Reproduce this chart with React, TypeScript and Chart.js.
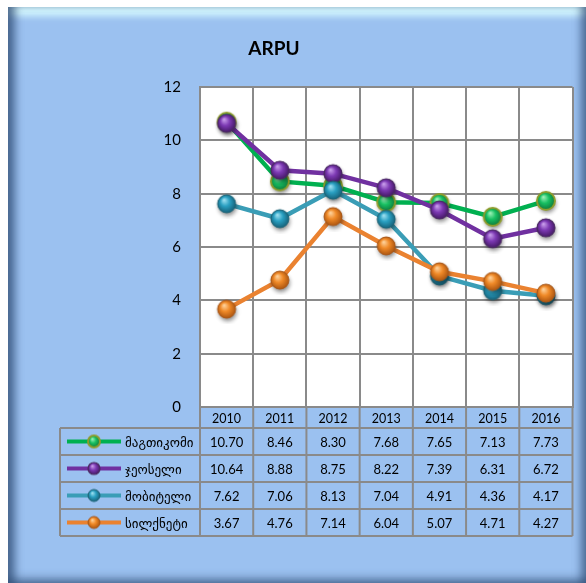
import React, { useEffect, useRef } from "react";
import { Chart, registerables } from "chart.js";

Chart.register(...registerables);

const categories = ["2010", "2011", "2012", "2013", "2014", "2015", "2016"];
const magticom = [10.7, 8.46, 8.3, 7.68, 7.65, 7.13, 7.73];
const geocell = [10.64, 8.88, 8.75, 8.22, 7.39, 6.31, 6.72];
const mobitel = [7.62, 7.06, 8.13, 7.04, 4.91, 4.36, 4.17];
const silknet = [3.67, 4.76, 7.14, 6.04, 5.07, 4.71, 4.27];
const seriesNames = ["მაგთიკომი", "ჯეოსელი", "მობიტელი", "სილქნეტი"];
const yTicks = [0, 2, 4, 6, 8, 10, 12];
const title = "ARPU";

const FONT = "Lato, 'DejaVu Sans', sans-serif";

type Palette = { line: string; light: string; base: string; dark: string; ring: string; ringW: number };
const palettes: Palette[] = [
  { line: "#00B050", light: "#A8F5BE", base: "#18C062", dark: "#0B6A34", ring: "#8E9C2C", ringW: 2 },
  { line: "#7030A0", light: "#CFA6F0", base: "#7D3AB4", dark: "#3A1258", ring: "#4B2B62", ringW: 1.2 },
  { line: "#3A9DB6", light: "#A8E6F5", base: "#2AA0C2", dark: "#13566C", ring: "#1E6477", ringW: 1 },
  { line: "#EA8230", light: "#FFD8A6", base: "#F08A28", dark: "#A04C0C", ring: "#A8581A", ringW: 1 },
];

function makeSphere(p: Palette, r: number, shadow: boolean): HTMLCanvasElement {
  const pad = 6;
  const size = Math.ceil(2 * (r + pad));
  const c = document.createElement("canvas");
  c.width = size;
  c.height = size;
  const g = c.getContext("2d")!;
  const cx = size / 2;
  const cy = size / 2;
  if (shadow) {
    g.save();
    g.shadowColor = "rgba(0,0,0,0.45)";
    g.shadowBlur = 4;
    g.shadowOffsetX = 1;
    g.shadowOffsetY = 3;
    g.beginPath();
    g.arc(cx, cy, r, 0, Math.PI * 2);
    g.fillStyle = p.dark;
    g.fill();
    g.restore();
  }
  const grad = g.createRadialGradient(cx - r * 0.3, cy - r * 0.45, 0, cx, cy, r * 1.15);
  grad.addColorStop(0, p.light);
  grad.addColorStop(0.45, p.base);
  grad.addColorStop(1, p.dark);
  g.beginPath();
  g.arc(cx, cy, r, 0, Math.PI * 2);
  g.fillStyle = grad;
  g.fill();
  g.lineWidth = p.ringW;
  g.strokeStyle = p.ring;
  g.stroke();
  return c;
}

export default function App() {
  const ref = useRef<HTMLCanvasElement | null>(null);

  useEffect(() => {
    if (!ref.current) return;
    const seriesData = [magticom, geocell, mobitel, silknet];
    const bigSpheres = palettes.map((p) => makeSphere(p, 9, true));
    const smallSpheres = palettes.map((p) => makeSphere(p, 6, false));

    const tablePlugin = {
      id: "tablePlugin",
      afterDraw(chart: any) {
        const ctx = chart.ctx as CanvasRenderingContext2D;
        const area = chart.chartArea;
        const xs = chart.scales.x;
        const n = categories.length;
        const colW = (area.right - area.left) / n;
        const top = area.bottom;
        const headerH = 21;
        const rowH = 27;
        const legendLeft = 52;
        const rowsTop = top + headerH;
        const bottom = rowsTop + rowH * seriesNames.length;
        ctx.save();
        // title
        ctx.fillStyle = "#000";
        ctx.font = `bold 19px ${FONT}`;
        ctx.textAlign = "center";
        ctx.textBaseline = "middle";
        ctx.fillText(title, 266, 42);

        ctx.strokeStyle = "#8A8A8A";
        ctx.lineWidth = 2;
        // vertical lines in value columns
        for (let i = 0; i <= n; i++) {
          const x = area.left + i * colW;
          ctx.beginPath();
          ctx.moveTo(x, top);
          ctx.lineTo(x, bottom);
          ctx.stroke();
        }
        // legend column left
        ctx.beginPath();
        ctx.moveTo(legendLeft, rowsTop);
        ctx.lineTo(legendLeft, bottom);
        ctx.stroke();
        // header bottom and row lines
        for (let r = 0; r <= seriesNames.length; r++) {
          const y = rowsTop + r * rowH;
          ctx.beginPath();
          ctx.moveTo(legendLeft, y);
          ctx.lineTo(area.right, y);
          ctx.stroke();
        }
        // header text
        ctx.fillStyle = "#000";
        ctx.font = `12.5px ${FONT}`;
        ctx.textAlign = "center";
        ctx.textBaseline = "middle";
        categories.forEach((c, i) => {
          ctx.fillText(c, xs.getPixelForValue(i), top + headerH / 2 + 1);
        });
        // rows
        seriesNames.forEach((name, r) => {
          const cy = rowsTop + r * rowH + rowH / 2;
          ctx.font = `13px ${FONT}`;
          ctx.textAlign = "center";
          seriesData[r].forEach((v, i) => {
            ctx.fillText(v.toFixed(2), xs.getPixelForValue(i), cy + 1);
          });
          // legend
          ctx.strokeStyle = palettes[r].line;
          ctx.lineWidth = 4;
          ctx.beginPath();
          ctx.moveTo(59, cy);
          ctx.lineTo(113, cy);
          ctx.stroke();
          const s = smallSpheres[r];
          ctx.drawImage(s, 86 - s.width / 2, cy - s.height / 2);
          ctx.fillStyle = "#000";
          ctx.textAlign = "left";
          ctx.font = `13px ${FONT}`;
          ctx.fillText(name, 117, cy + 1);
          ctx.strokeStyle = "#8A8A8A";
          ctx.lineWidth = 2;
        });
        ctx.restore();
      },
    };

    const whiteArea = {
      id: "whiteArea",
      beforeDraw(chart: any) {
        const a = chart.chartArea;
        const ctx = chart.ctx;
        ctx.save();
        ctx.fillStyle = "#FFFFFF";
        ctx.fillRect(a.left, a.top, a.right - a.left, a.bottom - a.top);
        ctx.restore();
      },
    };

    const chart = new Chart(ref.current, {
      type: "line",
      data: {
        labels: categories,
        datasets: seriesData.map((d, i) => ({
          label: seriesNames[i],
          data: d,
          borderColor: palettes[i].line,
          backgroundColor: palettes[i].line,
          borderWidth: 4.5,
          pointStyle: bigSpheres[i] as any,
          pointRadius: 9,
          tension: 0,
          order: 3 - i,
        })),
      },
      options: {
        animation: false,
        responsive: false,
        layout: { padding: { top: 80, right: 12, bottom: 176, left: 0 } },
        plugins: {
          legend: { display: false },
          title: { display: false },
          tooltip: { enabled: false },
        },
        scales: {
          x: {
            offset: true,
            ticks: { display: false },
            grid: { offset: true, color: "#8A8A8A", lineWidth: 2, drawTicks: false },
            border: { color: "#8A8A8A", width: 2 },
            afterFit: (s: any) => {
              s.height = 0;
            },
          },
          y: {
            min: 0,
            max: 12,
            afterBuildTicks: (s: any) => {
              s.ticks = yTicks.map((v) => ({ value: v }));
            },
            ticks: {
              color: "#000",
              font: { family: FONT, size: 15 },
              padding: 19,
            },
            grid: { color: "#8A8A8A", lineWidth: 2, drawTicks: false },
            border: { color: "#8A8A8A", width: 2 },
            afterFit: (s: any) => {
              s.width = 192;
            },
          },
        },
      },
      plugins: [whiteArea, tablePlugin],
    });
    return () => chart.destroy();
  }, []);

  return (
    <div
      style={{
        position: "absolute",
        left: 8,
        top: 7,
        width: 578,
        height: 576,
        background: "#9BC1F0",
        boxShadow:
          "inset 11px 0 8px -4px rgba(45,75,115,0.75), inset -9px 0 8px -4px rgba(45,75,115,0.7), inset 0 -9px 8px -4px rgba(45,75,115,0.55), inset 0 14px 7px -5px rgba(215,250,255,0.95)",
      }}
    >
      <canvas ref={ref} width={578} height={576} style={{ display: "block", width: 578, height: 576 }} />
    </div>
  );
}
